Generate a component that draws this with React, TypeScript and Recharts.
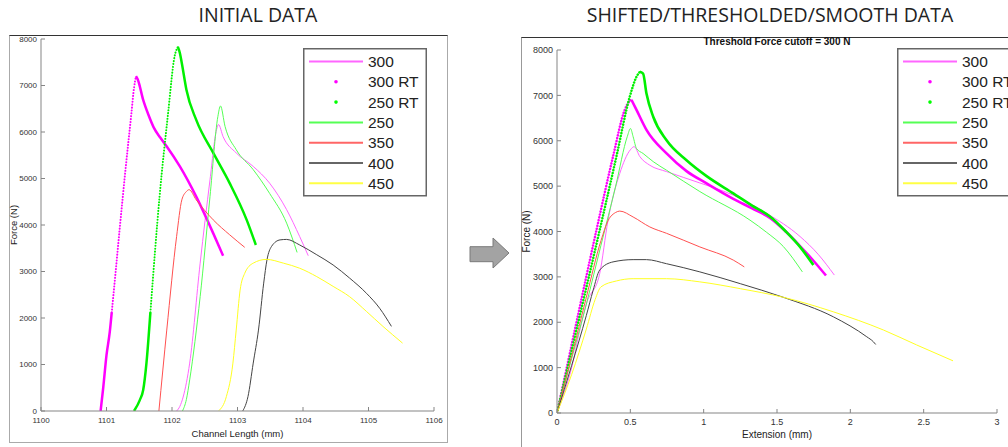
import React from "react";
import { LineChart, Line, XAxis, YAxis, Legend, Label } from "recharts";

const FONT = '"Liberation Sans", Arial, Helvetica, sans-serif';
const TITLE_FONT = '"Open Sans", "Noto Sans", sans-serif';

// ---- INITIAL DATA: [channel length (mm), force (N)] ----
const init300 = [
  [1102.07, 0], [1102.12, 100], [1102.17, 300], [1102.27, 1030], [1102.43, 3180],
  [1102.58, 4970], [1102.68, 6050], [1102.71, 6160], [1102.78, 5900], [1102.98, 5550],
  [1103.24, 5260], [1103.49, 4900], [1103.75, 4330], [1103.95, 3750], [1104.08, 3340],
];
const init300RtLow = [[1100.91, 0], [1100.95, 500], [1101.0, 1200], [1101.05, 1700], [1101.08, 2120]];
const init300RtRise = [
  [1101.08, 2120], [1101.14, 3000], [1101.2, 3900], [1101.3, 5330], [1101.38, 6400],
  [1101.42, 6950], [1101.45, 7200],
];
const init300RtFall = [
  [1101.45, 7200], [1101.48, 7120], [1101.56, 6690], [1101.64, 6370], [1101.72, 6100],
  [1101.82, 5880], [1101.92, 5690], [1102.12, 5260], [1102.37, 4610], [1102.63, 3820],
  [1102.78, 3340],
];
const init250RtLow = [[1101.42, 0], [1101.51, 240], [1101.56, 450], [1101.61, 1030], [1101.67, 2120]];
const init250RtRise = [[1101.67, 2120], [1101.81, 4610], [1101.94, 6400], [1102.04, 7630], [1102.09, 7830]];
const init250RtFall = [
  [1102.09, 7830], [1102.12, 7700], [1102.15, 7480], [1102.22, 6910], [1102.37, 6260],
  [1102.63, 5550], [1102.88, 4900], [1103.14, 4110], [1103.28, 3570],
];
const init250 = [
  [1102.16, 0], [1102.22, 250], [1102.27, 670], [1102.43, 2460], [1102.58, 4610],
  [1102.7, 6330], [1102.74, 6560], [1102.81, 6120], [1102.98, 5620], [1103.24, 5190],
  [1103.49, 4680], [1103.75, 4040], [1103.91, 3410],
];
const init350 = [
  [1101.8, 0], [1101.92, 1740], [1102.07, 3750], [1102.15, 4540], [1102.22, 4720],
  [1102.26, 4760], [1102.37, 4540], [1102.63, 4110], [1102.88, 3790], [1103.11, 3520],
];
const init400 = [
  [1103.08, 0], [1103.16, 310], [1103.24, 1030], [1103.32, 1740], [1103.4, 2750],
  [1103.45, 3250], [1103.52, 3540], [1103.65, 3680], [1103.75, 3690], [1103.95, 3570],
  [1104.21, 3360], [1104.46, 3140], [1104.71, 2860], [1104.97, 2530], [1105.17, 2210],
  [1105.35, 1820],
];
const init450 = [
  [1102.71, 0], [1102.83, 310], [1102.93, 1030], [1102.98, 1740], [1103.04, 2600],
  [1103.11, 2960], [1103.24, 3180], [1103.44, 3260], [1103.7, 3180], [1103.95, 3070],
  [1104.21, 2890], [1104.46, 2680], [1104.71, 2460], [1104.97, 2140], [1105.22, 1820],
  [1105.52, 1460],
];

// ---- SHIFTED / THRESHOLDED / SMOOTH DATA: [extension (mm), force (N)] ----
const shift300 = [
  [0, 0], [0.05, 450], [0.1, 1000], [0.155, 1820], [0.2, 2400], [0.291, 3070],
  [0.348, 4250], [0.428, 5280], [0.5, 5800], [0.526, 5870], [0.565, 5650], [0.633, 5460],
  [0.747, 5320], [0.974, 5070], [1.202, 4800], [1.43, 4400], [1.657, 3890], [1.78, 3500],
  [1.891, 3040],
];
const shift300RtRise = [
  [0, 0], [0.121, 1820], [0.269, 4030], [0.382, 5650], [0.462, 6680], [0.496, 6880], [0.508, 6900],
];
const shift300RtFall = [
  [0.508, 6900], [0.542, 6680], [0.61, 6240], [0.747, 5720], [0.883, 5330], [1.02, 5060],
  [1.202, 4720], [1.33, 4510], [1.452, 4300], [1.56, 4000], [1.657, 3680], [1.75, 3350],
  [1.834, 3030],
];
const shift250RtRise = [
  [0, 0], [0.132, 1820], [0.291, 4030], [0.405, 5650], [0.496, 6970], [0.542, 7410], [0.565, 7520],
];
const shift250RtFall = [
  [0.565, 7520], [0.587, 7480], [0.61, 7040], [0.656, 6530], [0.747, 6010], [0.883, 5570],
  [1.02, 5220], [1.202, 4840], [1.33, 4570], [1.452, 4330], [1.56, 4000], [1.657, 3660],
  [1.748, 3260],
];
const shift250 = [
  [0, 0], [0.1, 1200], [0.2, 2400], [0.3, 3700], [0.4, 5000], [0.48, 6100], [0.501, 6270],
  [0.519, 6090], [0.542, 5830], [0.587, 5720], [0.656, 5540], [0.747, 5350], [0.974, 4880],
  [1.316, 4250], [1.43, 3980], [1.543, 3670], [1.673, 3110],
];
const shift350 = [
  [0, 0], [0.1, 1250], [0.2, 2550], [0.3, 3800], [0.35, 4250], [0.4, 4420], [0.428, 4450],
  [0.519, 4320], [0.633, 4100], [0.747, 3960], [0.974, 3660], [1.202, 3370], [1.277, 3220],
];
const shift400 = [
  [0, 0], [0.1, 1050], [0.2, 2150], [0.246, 2700], [0.291, 3150], [0.382, 3330], [0.519, 3380],
  [0.61, 3380], [0.747, 3290], [0.974, 3110], [1.25, 2850], [1.543, 2550], [1.884, 2120],
  [2.112, 1680], [2.157, 1570], [2.173, 1510],
];
const shift450 = [
  [0, 0], [0.1, 850], [0.2, 1850], [0.26, 2500], [0.3, 2780], [0.405, 2910], [0.519, 2960],
  [0.747, 2960], [0.974, 2890], [1.25, 2740], [1.543, 2550], [1.884, 2230], [2.225, 1830],
  [2.452, 1500], [2.7, 1150],
];

const initTicksX = [1100, 1101, 1102, 1103, 1104, 1105, 1106];
const shiftTicksX = [0, 0.5, 1, 1.5, 2, 2.5, 3];
const forceTicks = [0, 1000, 2000, 3000, 4000, 5000, 6000, 7000, 8000];

const legendNames = ["300", "300 RT", "250 RT", "250", "350", "400", "450"];
const legendColors = ["#ff66ff", "#ff00ff", "#00ff00", "#55ff55", "#ff6666", "#666666", "#ffff44"];
const legendIsDot = [false, true, true, false, false, false, false];

const C300 = "#ff66ff";
const C300RT = "#ff00ff";
const C250RT = "#00f000";
const C250 = "#55ff55";
const C350 = "#ff5050";
const C400 = "#444444";
const C450 = "#ffff22";

const pts = (a: number[][]) => a.map(([x, y]) => ({ x, y }));

type Series = { key: string; data: number[][]; color: string; width: number; dotted?: boolean };

const initSeries: Series[] = [
  { key: "i300", data: init300, color: C300, width: 1 },
  { key: "i300rtLow", data: init300RtLow, color: C300RT, width: 2.5 },
  { key: "i300rtRise", data: init300RtRise, color: C300RT, width: 2, dotted: true },
  { key: "i300rtFall", data: init300RtFall, color: C300RT, width: 2.5 },
  { key: "i250rtLow", data: init250RtLow, color: C250RT, width: 2.5 },
  { key: "i250rtRise", data: init250RtRise, color: C250RT, width: 2, dotted: true },
  { key: "i250rtFall", data: init250RtFall, color: C250RT, width: 2.5 },
  { key: "i250", data: init250, color: C250, width: 1 },
  { key: "i350", data: init350, color: C350, width: 1 },
  { key: "i400", data: init400, color: C400, width: 1 },
  { key: "i450", data: init450, color: C450, width: 1 },
];

const shiftSeries: Series[] = [
  { key: "s300", data: shift300, color: C300, width: 1 },
  { key: "s300rtRise", data: shift300RtRise, color: C300RT, width: 2.5, dotted: true },
  { key: "s300rtFall", data: shift300RtFall, color: C300RT, width: 2.6 },
  { key: "s250rtRise", data: shift250RtRise, color: C250RT, width: 2.5, dotted: true },
  { key: "s250rtFall", data: shift250RtFall, color: C250RT, width: 2.6 },
  { key: "s250", data: shift250, color: C250, width: 1 },
  { key: "s350", data: shift350, color: C350, width: 1 },
  { key: "s400", data: shift400, color: C400, width: 1 },
  { key: "s450", data: shift450, color: C450, width: 1 },
];

function LegendBox() {
  return (
    <svg width={125} height={149} style={{ display: "block" }}>
      <rect x={0.75} y={0.75} width={122.5} height={147} fill="#fff" stroke="#666" strokeWidth={1.5} />
      {legendNames.map((name, i) => {
        const cy = 13.5 + i * 20.3;
        return (
          <g key={name}>
            {legendIsDot[i] ? (
              <circle cx={33} cy={cy} r={1.8} fill={legendColors[i]} />
            ) : (
              <line x1={6} x2={60} y1={cy} y2={cy} stroke={legendColors[i]} strokeWidth={2} />
            )}
            <text x={65} y={cy + 5.5} fontSize={15.5} fontFamily={FONT} fill="#222">
              {name}
            </text>
          </g>
        );
      })}
    </svg>
  );
}

function yLabel(text: string, dx: number, size: number) {
  return (props: any) => {
    const vb = props.viewBox || { x: 0, y: 0, width: 0, height: 0 };
    const cx = vb.x + dx;
    const cy = vb.y + vb.height / 2;
    return (
      <text
        x={cx}
        y={cy}
        transform={`rotate(-90 ${cx} ${cy})`}
        textAnchor="middle"
        dominantBaseline="central"
        fontSize={size}
        fontFamily={FONT}
        fill="#222"
      >
        {text}
      </text>
    );
  };
}

function renderLines(series: Series[]) {
  return series.map((s) => (
    <Line
      key={s.key}
      data={pts(s.data)}
      dataKey="y"
      type="monotone"
      stroke={s.color}
      strokeWidth={s.width}
      strokeDasharray={s.dotted ? "0.1 2.8" : undefined}
      strokeLinecap={s.dotted ? "round" : "butt"}
      dot={false}
      activeDot={false}
      isAnimationActive={false}
    />
  ));
}

const axisColor = "#858585";

export default function App() {
  return (
    <div
      style={{
        position: "absolute",
        left: 0,
        top: 0,
        width: 1008,
        height: 447,
        overflow: "hidden",
        background: "#fff",
        fontFamily: FONT,
      }}
    >
      <div
        style={{
          position: "absolute", left: 58, top: 5, width: 400, textAlign: "center",
          fontFamily: TITLE_FONT, fontSize: 19.5, lineHeight: "20px", color: "#222",
        }}
      >
        INITIAL DATA
      </div>
      <div
        style={{
          position: "absolute", left: 520, top: 5, width: 500, textAlign: "center",
          fontFamily: TITLE_FONT, fontSize: 19.5, lineHeight: "20px", color: "#222",
        }}
      >
        SHIFTED/THRESHOLDED/SMOOTH DATA
      </div>

      {/* panel frames */}
      <div
        style={{
          position: "absolute", left: 9, top: 35, width: 439, height: 408, boxSizing: "border-box",
          borderTop: "1.5px solid #333", borderLeft: "1px solid #aaa", borderRight: "1px solid #aaa",
          borderBottom: "1px solid #aaa",
        }}
      />
      <div
        style={{
          position: "absolute", left: 521, top: 37, width: 500, height: 420, boxSizing: "border-box",
          borderTop: "1.5px solid #333", borderLeft: "1px solid #999",
        }}
      />

      {/* arrow */}
      <svg style={{ position: "absolute", left: 465, top: 235 }} width={50} height={40}>
        <polygon
          points="5,11.7 28,11.7 28,3 44,18 28,33 28,26.7 5,26.7"
          fill="#a3a3a3"
          stroke="#7a7a7a"
          strokeWidth={1}
        />
      </svg>

      <div style={{ position: "absolute", left: 9, top: 36 }}>
        <LineChart width={439} height={407} margin={{ top: 3, right: 14, bottom: 0, left: 0 }}>
          <XAxis
            dataKey="x"
            type="number"
            domain={[1100, 1106]}
            ticks={initTicksX}
            interval={0}
            allowDataOverflow
            height={32}
            tickSize={-4}
            tickMargin={10}
            stroke={axisColor}
            tick={{ fontSize: 8, fill: "#333", fontFamily: FONT }}
          >
            <Label
              value="Channel Length (mm)"
              position="insideBottom"
              offset={6}
              style={{ fontSize: 9.5, fill: "#222", fontFamily: FONT }}
            />
          </XAxis>
          <YAxis
            type="number"
            domain={[0, 8000]}
            ticks={forceTicks}
            interval={0}
            allowDataOverflow
            width={32}
            tickSize={-4}
            tickMargin={8}
            stroke={axisColor}
            tick={{ fontSize: 8, fill: "#333", fontFamily: FONT }}
          >
            <Label content={yLabel("Force (N)", 4.5, 9.5)} />
          </YAxis>
          {renderLines(initSeries)}
          <Legend
            layout="vertical"
            align="center"
            verticalAlign="middle"
            wrapperStyle={{ left: 294, top: 12, width: 125 }}
            content={() => <LegendBox />}
          />
        </LineChart>
      </div>

      <div style={{ position: "absolute", left: 521, top: 37 }}>
        <LineChart width={487} height={410} margin={{ top: 13, right: 11, bottom: 0, left: 0 }}>
          <XAxis
            dataKey="x"
            type="number"
            domain={[0, 3]}
            ticks={shiftTicksX}
            interval={0}
            allowDataOverflow
            height={34}
            tickSize={-4}
            tickMargin={10}
            stroke={axisColor}
            tick={{ fontSize: 9, fill: "#333", fontFamily: FONT }}
          >
            <Label
              value="Extension (mm)"
              position="insideBottom"
              offset={9}
              style={{ fontSize: 10, fill: "#222", fontFamily: FONT }}
            />
          </XAxis>
          <YAxis
            type="number"
            domain={[0, 8000]}
            ticks={forceTicks}
            interval={0}
            allowDataOverflow
            width={36}
            tickSize={-4}
            tickMargin={8}
            stroke={axisColor}
            tick={{ fontSize: 9, fill: "#333", fontFamily: FONT }}
          >
            <Label content={yLabel("Force (N)", 5, 10)} />
          </YAxis>
          {renderLines(shiftSeries)}
          <Legend
            layout="vertical"
            align="center"
            verticalAlign="middle"
            wrapperStyle={{ left: 376, top: 11, width: 125 }}
            content={() => <LegendBox />}
          />
        </LineChart>
      </div>

      <div
        style={{
          position: "absolute", left: 627, top: 36, width: 300, textAlign: "center",
          fontSize: 10, fontWeight: "bold", lineHeight: "12px", color: "#111", fontFamily: FONT,
        }}
      >
        Threshold Force cutoff = 300 N
      </div>
    </div>
  );
}
